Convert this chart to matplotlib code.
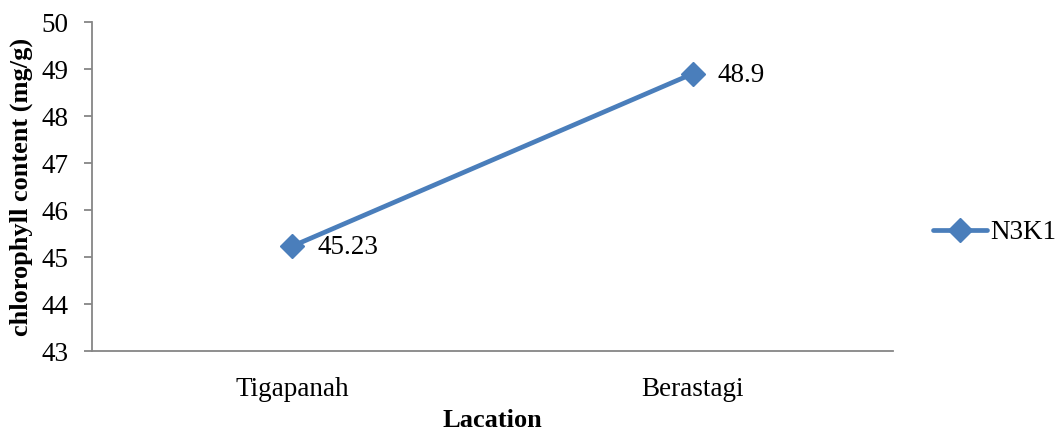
import matplotlib
matplotlib.use("Agg")
import matplotlib.pyplot as plt

locations = ["Tigapanah", "Berastagi"]
chlorophyll = [45.23, 48.9]
value_labels = ["45.23", "48.9"]
series_name = "N3K1"
y_ticks = [43, 44, 45, 46, 47, 48, 49, 50]

plt.rcParams['font.family'] = ['Liberation Serif', 'DejaVu Serif']

fig = plt.figure(figsize=(10.56, 4.34), dpi=100)
ax = fig.add_axes([0.0871, 0.1912, 0.7585, 0.7581])

xs = list(range(len(locations)))
ax.plot(xs, chlorophyll, color='#4A7EBB', lw=3.4, marker='D', ms=12,
        label=series_name, solid_capstyle='round')
for x, v, t in zip(xs, chlorophyll, value_labels):
    ax.annotate(t, (x, v), xytext=(18, -1), textcoords='offset points',
                va='center', ha='left', fontsize=19.5)

ax.set_xlim(-0.5, 1.5)
ax.set_ylim(43, 50)
ax.set_yticks(y_ticks)
ax.set_xticks(xs)
ax.set_xticklabels(locations, fontsize=19.5)
ax.tick_params(axis='y', labelsize=19.5, length=6, color='#868686', width=1.3, pad=11)
ax.tick_params(axis='x', length=0, pad=19)
for s in ['top', 'right']:
    ax.spines[s].set_visible(False)
for s in ['left', 'bottom']:
    ax.spines[s].set_color('#868686')
    ax.spines[s].set_linewidth(1.3)

ax.set_xlabel('Lacation', fontsize=19, fontweight='bold', labelpad=5)
ax.set_ylabel('chlorophyll content (mg/g)', fontsize=19, fontweight='bold', labelpad=6)

leg = ax.legend(loc='center left', bbox_to_anchor=(1.05, 0.36), frameon=False,
                fontsize=19.5, handlelength=2.0, handletextpad=0.1,
                borderaxespad=0, borderpad=0)

fig.savefig('out.png', dpi=100)
